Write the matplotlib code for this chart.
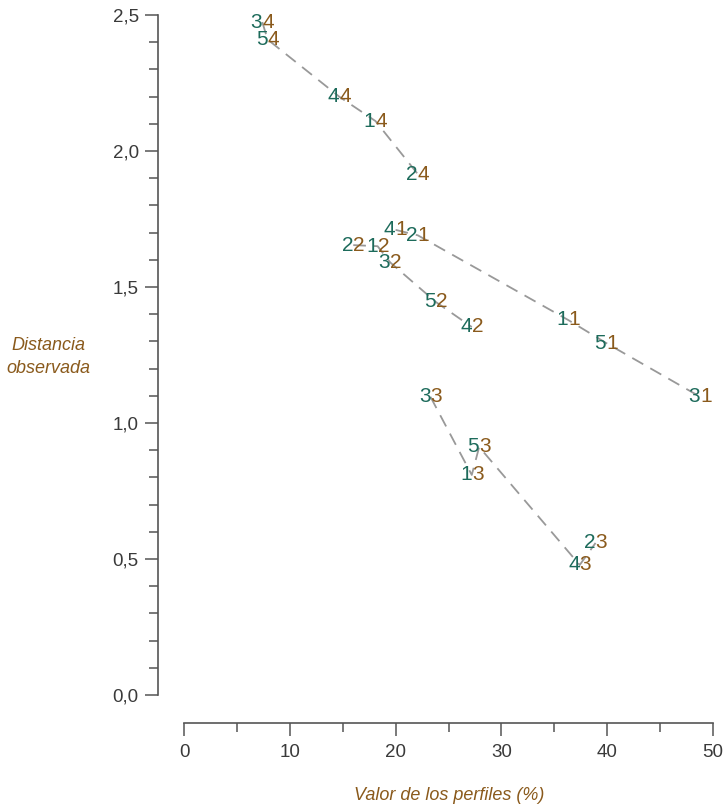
import matplotlib
matplotlib.use("Agg")
import matplotlib.pyplot as plt
from matplotlib.ticker import MultipleLocator, FuncFormatter

# Point labels: first digit = profile, second digit = group
labels = ["34", "54", "44", "14", "24",
          "41", "21", "11", "51", "31",
          "22", "12", "32", "52", "42",
          "33", "53", "13", "23", "43"]
perfil_pct = [7.4, 7.9, 14.7, 18.1, 22.1,
              20.0, 22.1, 36.3, 39.9, 48.8,
              16.0, 18.3, 19.5, 23.8, 27.2,
              23.3, 27.9, 27.2, 38.9, 37.4]
distancia = [2.474, 2.41, 2.199, 2.11, 1.915,
             1.71, 1.69, 1.379, 1.294, 1.096,
             1.654, 1.65, 1.59, 1.445, 1.353,
             1.096, 0.912, 0.809, 0.559, 0.478]

x_ticks = [0, 10, 20, 30, 40, 50]
y_ticks = [0.0, 0.5, 1.0, 1.5, 2.0, 2.5]

green = "#1d6b5b"
brown = "#8a5a1c"
axis_col = "#555555"
text_col = "#3a3a3a"

plt.rcParams["font.family"] = ["Liberation Sans", "DejaVu Sans"]

W, H = 723, 808
fig = plt.figure(figsize=(W / 100, H / 100), dpi=100)
ax = fig.add_axes([184 / W, (H - 695) / H, (713 - 184) / W, (695 - 15) / H])
ax.set_xlim(0, 50)
ax.set_ylim(0, 2.5)

# dashed connection within each group, ordered by x
groups = sorted(set(l[1] for l in labels))
for g in groups:
    pts = sorted((x, y) for l, x, y in zip(labels, perfil_pct, distancia) if l[1] == g)
    ax.plot([p[0] for p in pts], [p[1] for p in pts], color="#999999",
            lw=1.3, dashes=(7, 4.5), zorder=1)

for l, x, y in zip(labels, perfil_pct, distancia):
    ax.text(x, y, l[0], color=green, fontsize=15, ha="right", va="center", zorder=3)
    ax.text(x, y, l[1], color=brown, fontsize=15, ha="left", va="center", zorder=3)

# offset spines (offsets in points)
for s in ["top", "right"]:
    ax.spines[s].set_visible(False)
ax.spines["left"].set_position(("outward", 19))
ax.spines["bottom"].set_position(("outward", 20.5))
for s in ["left", "bottom"]:
    ax.spines[s].set_color(axis_col)
    ax.spines[s].set_linewidth(1.2)

ax.set_xticks(x_ticks)
ax.set_yticks(y_ticks)
ax.xaxis.set_minor_locator(MultipleLocator(5))
ax.yaxis.set_minor_locator(MultipleLocator(0.1))
ax.yaxis.set_major_formatter(FuncFormatter(lambda v, p: f"{v:.1f}".replace(".", ",")))
ax.tick_params(which="major", length=9.5, width=1.1, color=axis_col,
               labelsize=13.5, labelcolor=text_col)
ax.tick_params(axis="y", which="major", pad=4)
ax.tick_params(axis="x", which="major", pad=5)
ax.tick_params(which="minor", length=6.3, width=1.1, color=axis_col)

fig.text(48 / W, 1 - 357 / H, "Distancia\nobservada", color=brown, fontsize=13,
         style="italic", ha="center", va="center", linespacing=1.45)
fig.text(449 / W, 1 - 795 / H, "Valor de los perfiles (%)", color=brown, fontsize=13,
         style="italic", ha="center", va="center")

fig.savefig("out.png", dpi=100)
